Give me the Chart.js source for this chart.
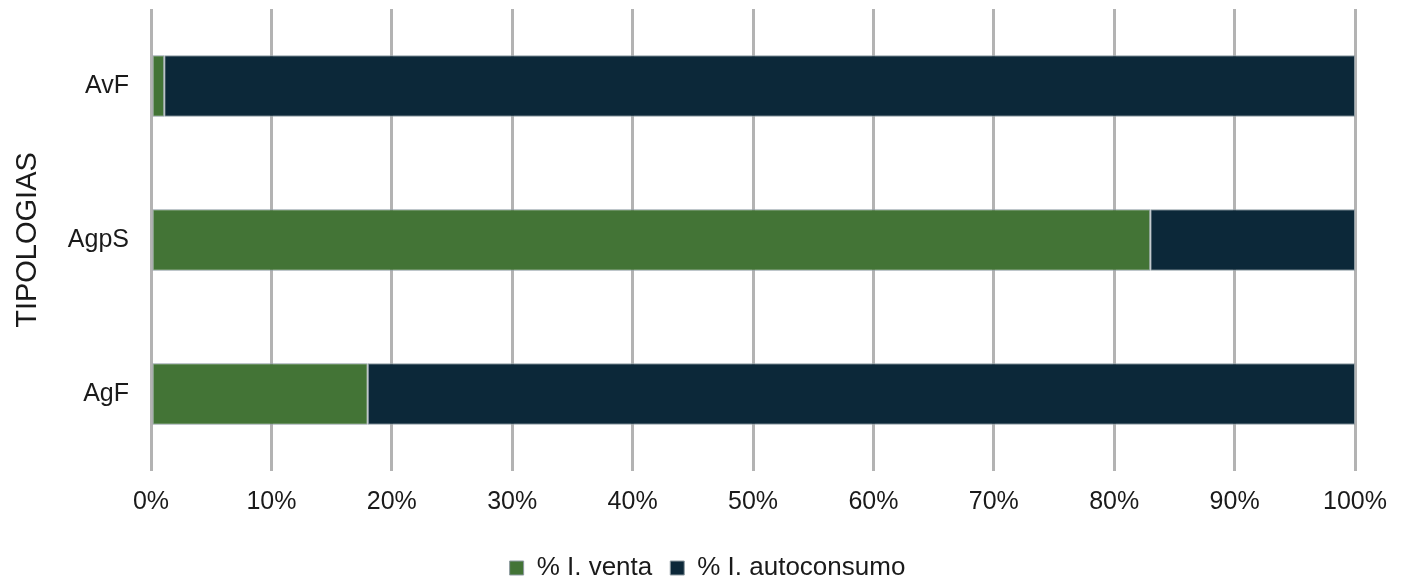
<!DOCTYPE html>
<html>
<head>
<meta charset="utf-8">
<script src="https://cdn.jsdelivr.net/npm/chart.js"></script>
<style>
    html, body { margin: 0; padding: 0; background: #fff; }
    #wrap { width: 1407px; height: 583px; }
</style>
</head>
<body>
<div id="wrap"><canvas id="tipoChart" width="1407" height="583"></canvas></div>
<script>
    // Data
    const categories = ['AvF', 'AgpS', 'AgF'];
    const ventaPct = [1.1, 83, 18];
    const autoconsumoPct = [98.9, 17, 82];
    const xTicks = [0, 10, 20, 30, 40, 50, 60, 70, 80, 90, 100];

    Chart.defaults.font.family = "'Liberation Sans', Arial, sans-serif";
    Chart.defaults.color = '#1a1a1a';

    // Fix the legend height so the plot area lines up,
    // and centre it on the full canvas instead of the padded area
    const legendLayout = {
        id: 'legendLayout',
        beforeInit(chart) {
            const fit = chart.legend.fit;
            chart.legend.fit = function() {
                fit.bind(chart.legend)();
                this.height = 46;
            };
        },
        afterLayout(chart) {
            chart.legend.right += 60;
        }
    };

    const ctx = document.getElementById('tipoChart').getContext('2d');

    new Chart(ctx, {
        type: 'bar',
        data: {
            labels: categories,
            datasets: [
                {
                    label: '% I. venta',
                    data: ventaPct,
                    backgroundColor: '#437436',
                    borderColor: '#8d9aa1',
                    borderWidth: 1,
                    borderSkipped: false,
                    barPercentage: 0.4,
                    categoryPercentage: 1
                },
                {
                    label: '% I. autoconsumo',
                    data: autoconsumoPct,
                    backgroundColor: '#0c2839',
                    borderColor: '#8d9aa1',
                    borderWidth: 1,
                    borderSkipped: false,
                    barPercentage: 0.4,
                    categoryPercentage: 1
                }
            ]
        },
        options: {
            indexAxis: 'y',
            responsive: false,
            animation: false,
            layout: {
                padding: { top: 9, right: 52, left: 0, bottom: 0 }
            },
            plugins: {
                legend: {
                    position: 'bottom',
                    labels: {
                        font: { size: 26 },
                        boxWidth: 14,
                        boxHeight: 14,
                        padding: 18
                    }
                },
                tooltip: { enabled: false }
            },
            scales: {
                x: {
                    stacked: true,
                    min: 0,
                    max: 100,
                    afterBuildTicks: function(scale) {
                        scale.ticks = xTicks.map(v => ({ value: v }));
                    },
                    afterFit: function(scale) {
                        scale.height = 66;
                    },
                    border: { display: false },
                    grid: {
                        color: '#b3b3b3',
                        lineWidth: 3,
                        drawTicks: false
                    },
                    ticks: {
                        padding: 16,
                        font: { size: 25 },
                        callback: v => v + '%'
                    }
                },
                y: {
                    stacked: true,
                    afterFit: function(scale) {
                        scale.width = 151;
                        scale.paddingTop = 0;
                        scale.paddingBottom = 0;
                    },
                    border: { display: false },
                    grid: { display: false, drawTicks: false },
                    ticks: {
                        padding: 22,
                        font: { size: 25 }
                    },
                    title: {
                        display: true,
                        text: 'TIPOLOGIAS',
                        font: { size: 29 },
                        padding: { top: 11, bottom: 0 }
                    }
                }
            }
        },
        plugins: [legendLayout]
    });
</script>
</body>
</html>
